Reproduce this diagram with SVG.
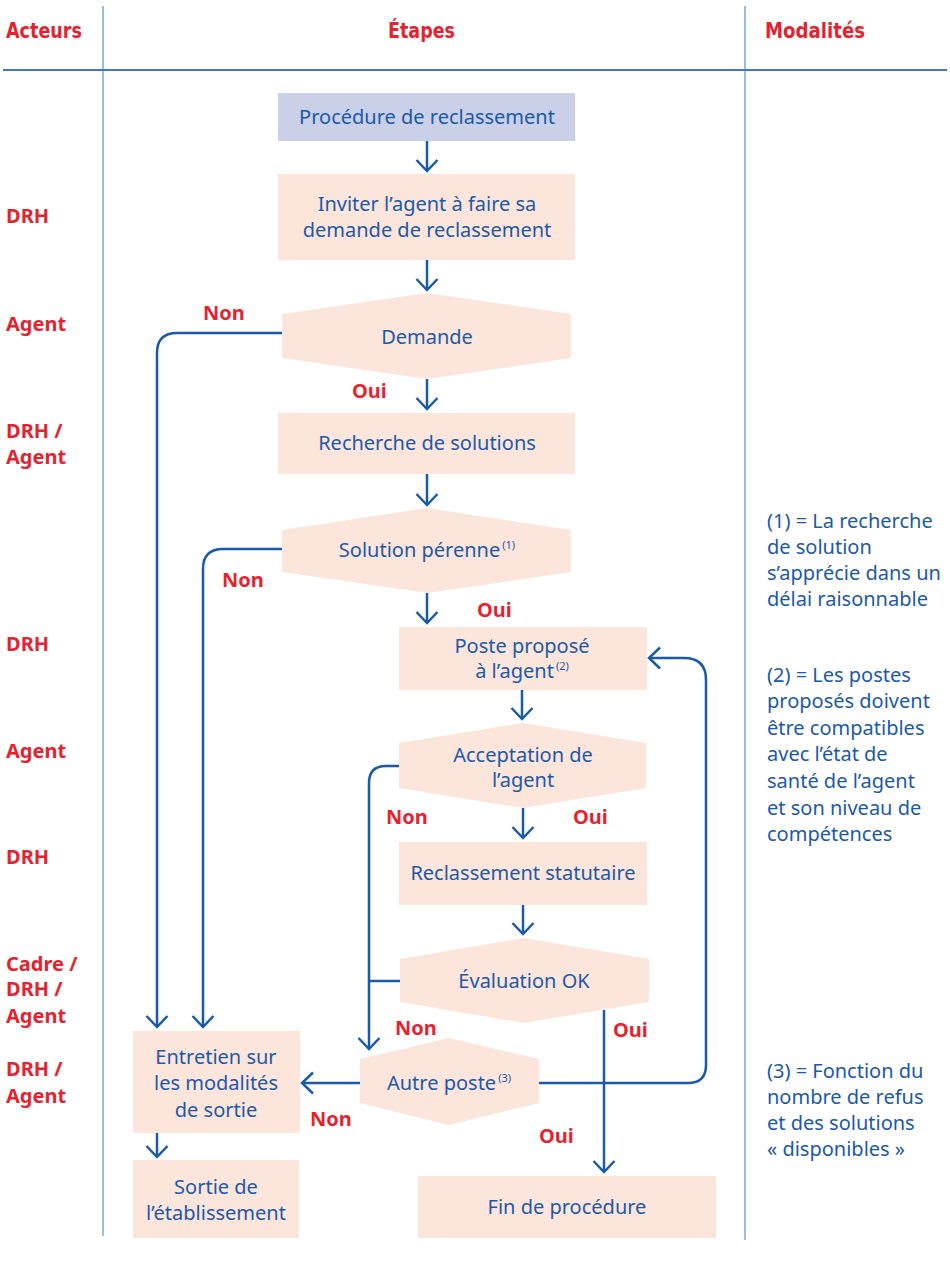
<svg xmlns="http://www.w3.org/2000/svg" width="950" height="1270" viewBox="0 0 950 1270">
<style>
  .hdr{font-family:'Liberation Sans Narrow','DejaVu Sans Condensed','Liberation Sans',sans-serif;font-weight:bold;font-size:22px;fill:#e52330}
  .act{font-family:'Noto Sans','Open Sans',sans-serif;font-weight:bold;font-size:20px;fill:#e52330}
  .lbl{font-family:'Noto Sans','Open Sans',sans-serif;font-weight:bold;font-size:20px;fill:#e52330}
  .t{font-family:'Noto Sans','Open Sans',sans-serif;font-size:20px;fill:#1c59a8;text-anchor:middle}
  .note{font-family:'Noto Sans','Open Sans',sans-serif;font-size:20px;fill:#1c59a8}
  .sup{font-size:11px}
  .box{fill:#fce5db}
  .start{fill:#c9d0e7}
  .conn{fill:none;stroke:#1a5aa6;stroke-width:2.5}
  .sep{stroke:#7ea6d6;stroke-width:1.5}
</style>
<defs>
  <marker id="ah" viewBox="-14 -13 16 26" markerWidth="16" markerHeight="26" refX="0" refY="0" orient="auto" markerUnits="userSpaceOnUse" overflow="visible">
    <path d="M-11,-10.5 L0,0 L-11,10.5" fill="none" stroke="#1a5aa6" stroke-width="2.5"/>
  </marker>
</defs>
<rect width="950" height="1270" fill="#ffffff"/>

<g id="grid">
  <line class="sep" x1="103" y1="6" x2="103" y2="1236"/>
  <line class="sep" x1="745" y1="6" x2="745" y2="1240"/>
  <line x1="3" y1="70" x2="947" y2="70" stroke="#3b78c0" stroke-width="2"/>
  <text class="hdr" x="6" y="38" textLength="76" lengthAdjust="spacingAndGlyphs">Acteurs</text>
  <text class="hdr" x="388" y="38" textLength="67" lengthAdjust="spacingAndGlyphs">Étapes</text>
  <text class="hdr" x="765" y="38" textLength="100" lengthAdjust="spacingAndGlyphs">Modalités</text>
</g>

<g id="actors">
  <text class="act" x="6" y="223">DRH</text>
  <text class="act" x="6" y="331">Agent</text>
  <text class="act" x="6" y="438">DRH /</text>
  <text class="act" x="6" y="464">Agent</text>
  <text class="act" x="6" y="651">DRH</text>
  <text class="act" x="6" y="758">Agent</text>
  <text class="act" x="6" y="864">DRH</text>
  <text class="act" x="6" y="971">Cadre /</text>
  <text class="act" x="6" y="996">DRH /</text>
  <text class="act" x="6" y="1023">Agent</text>
  <text class="act" x="6" y="1076">DRH /</text>
  <text class="act" x="6" y="1103">Agent</text>
</g>

<g id="connectors">
  <line class="conn" x1="427" y1="141" x2="427" y2="171" marker-end="url(#ah)"/>
  <line class="conn" x1="427" y1="260" x2="427" y2="290" marker-end="url(#ah)"/>
  <line class="conn" x1="427" y1="379" x2="427" y2="409" marker-end="url(#ah)"/>
  <line class="conn" x1="427" y1="474" x2="427" y2="505" marker-end="url(#ah)"/>
  <line class="conn" x1="427" y1="593" x2="427" y2="623" marker-end="url(#ah)"/>
  <line class="conn" x1="522" y1="690" x2="522" y2="719" marker-end="url(#ah)"/>
  <line class="conn" x1="523" y1="808" x2="523" y2="838" marker-end="url(#ah)"/>
  <line class="conn" x1="523" y1="905" x2="523" y2="934" marker-end="url(#ah)"/>
  <path class="conn" d="M282,333 H177 Q157,333 157,353 V1027" marker-end="url(#ah)"/>
  <path class="conn" d="M282,549 H223 Q203,549 203,569 V1027" marker-end="url(#ah)"/>
  <path class="conn" d="M399,766 H386 Q369,766 369,783 V1049" marker-end="url(#ah)"/>
  <path class="conn" d="M400,981 H369"/>
  <path class="conn" d="M604,1010 V1172" marker-end="url(#ah)"/>
  <path class="conn" d="M360,1083 H302" marker-end="url(#ah)"/>
  <path class="conn" d="M539,1083 H688 Q706,1083 706,1065 V680 Q706,658 684,658 H649" marker-end="url(#ah)"/>
  <line class="conn" x1="157" y1="1133" x2="157" y2="1157" marker-end="url(#ah)"/>
  <text class="lbl" x="203" y="320">Non</text>
  <text class="lbl" x="352" y="398">Oui</text>
  <text class="lbl" x="222" y="587">Non</text>
  <text class="lbl" x="477" y="617">Oui</text>
  <text class="lbl" x="386" y="824">Non</text>
  <text class="lbl" x="573" y="824">Oui</text>
  <text class="lbl" x="395" y="1035">Non</text>
  <text class="lbl" x="613" y="1037">Oui</text>
  <text class="lbl" x="310" y="1126">Non</text>
  <text class="lbl" x="539" y="1143">Oui</text>
</g>

<g id="n-start">
  <rect class="start" x="278" y="93" width="297" height="48"/>
  <text class="t" x="427" y="124">Procédure de reclassement</text>
</g>
<g id="n-inviter">
  <rect class="box" x="278" y="174" width="297" height="86"/>
  <text class="t" x="427" y="211">Inviter l’agent à faire sa</text>
  <text class="t" x="427" y="237">demande de reclassement</text>
</g>
<g id="n-demande">
  <polygon class="box" points="427,293 571,314 571,358 427,379 282,358 282,314"/>
  <text class="t" x="427" y="344">Demande</text>
</g>
<g id="n-recherche">
  <rect class="box" x="278" y="413" width="297" height="61"/>
  <text class="t" x="427" y="450">Recherche de solutions</text>
</g>
<g id="n-solution">
  <polygon class="box" points="427,508 571,530 571,572 427,593 282,572 282,530"/>
  <text class="t" x="427" y="557">Solution pérenne<tspan class="sup" dx="2" dy="-8">(1)</tspan></text>
</g>
<g id="n-poste">
  <rect class="box" x="399" y="627" width="248" height="63"/>
  <text class="t" x="522" y="653">Poste proposé</text>
  <text class="t" x="522" y="678">à l’agent<tspan class="sup" dx="2" dy="-8">(2)</tspan></text>
</g>
<g id="n-acceptation">
  <polygon class="box" points="523,723 646,743 646,788 523,808 399,788 399,743"/>
  <text class="t" x="523" y="762">Acceptation de</text>
  <text class="t" x="523" y="787">l’agent</text>
</g>
<g id="n-reclassement">
  <rect class="box" x="399" y="842" width="248" height="63"/>
  <text class="t" x="523" y="880">Reclassement statutaire</text>
</g>
<g id="n-evaluation">
  <polygon class="box" points="524,938 649,959 649,1002 524,1023 400,1002 400,959"/>
  <text class="t" x="524" y="988">Évaluation OK</text>
</g>
<g id="n-autre">
  <polygon class="box" points="449,1038 539,1059 539,1103 449,1125 360,1103 360,1059"/>
  <text class="t" x="449" y="1090">Autre poste<tspan class="sup" dx="2" dy="-8">(3)</tspan></text>
</g>
<g id="n-entretien">
  <rect class="box" x="133" y="1031" width="167" height="102"/>
  <text class="t" x="216" y="1064">Entretien sur</text>
  <text class="t" x="216" y="1090">les modalités</text>
  <text class="t" x="216" y="1117">de sortie</text>
</g>
<g id="n-sortie">
  <rect class="box" x="133" y="1160" width="166" height="78"/>
  <text class="t" x="216" y="1194">Sortie de</text>
  <text class="t" x="216" y="1220">l’établissement</text>
</g>
<g id="n-fin">
  <rect class="box" x="418" y="1176" width="298" height="62"/>
  <text class="t" x="567" y="1214">Fin de procédure</text>
</g>

<g id="notes">
  <text class="note" x="767" y="528">(1) = La recherche</text>
  <text class="note" x="767" y="554">de solution</text>
  <text class="note" x="767" y="580">s’apprécie dans un</text>
  <text class="note" x="767" y="606">délai raisonnable</text>
  <text class="note" x="767" y="682">(2) = Les postes</text>
  <text class="note" x="767" y="708">proposés doivent</text>
  <text class="note" x="767" y="735">être compatibles</text>
  <text class="note" x="767" y="761">avec l’état de</text>
  <text class="note" x="767" y="788">santé de l’agent</text>
  <text class="note" x="767" y="815">et son niveau de</text>
  <text class="note" x="767" y="841">compétences</text>
  <text class="note" x="767" y="1078">(3) = Fonction du</text>
  <text class="note" x="767" y="1104">nombre de refus</text>
  <text class="note" x="767" y="1130">et des solutions</text>
  <text class="note" x="767" y="1156">« disponibles »</text>
</g>
</svg>
